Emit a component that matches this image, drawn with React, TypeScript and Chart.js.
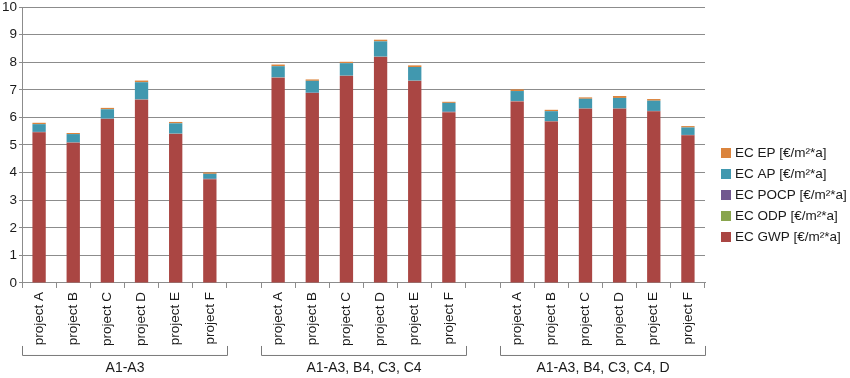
import React, { useEffect, useRef } from "react";
import { Chart, registerables } from "chart.js";

Chart.register(...registerables);

const categories = [
  "project A", "project B", "project C", "project D", "project E", "project F", "",
  "project A", "project B", "project C", "project D", "project E", "project F", "",
  "project A", "project B", "project C", "project D", "project E", "project F",
];

const gwp = [5.46, 5.08, 5.94, 6.64, 5.4, 3.76, null, 7.44, 6.88, 7.5, 8.19, 7.32, 6.19, null, 6.58, 5.85, 6.31, 6.31, 6.22, 5.35];
const odp = [0.005, 0.005, 0.005, 0.005, 0.005, 0.005, null, 0.005, 0.005, 0.005, 0.005, 0.005, 0.005, null, 0.005, 0.005, 0.005, 0.005, 0.005, 0.005];
const pocp = [0.01, 0.01, 0.01, 0.01, 0.01, 0.01, null, 0.01, 0.01, 0.01, 0.01, 0.01, 0.01, null, 0.01, 0.01, 0.01, 0.01, 0.01, 0.01];
const ap = [0.28, 0.3, 0.34, 0.62, 0.37, 0.18, null, 0.4, 0.43, 0.45, 0.55, 0.49, 0.32, null, 0.36, 0.36, 0.35, 0.38, 0.37, 0.27];
const ep = [0.05, 0.04, 0.05, 0.06, 0.05, 0.05, null, 0.06, 0.05, 0.05, 0.06, 0.06, 0.04, null, 0.06, 0.05, 0.05, 0.07, 0.06, 0.05];

const seriesLabels = ["EC GWP [€/m²*a]", "EC ODP [€/m²*a]", "EC POCP [€/m²*a]", "EC AP [€/m²*a]", "EC EP [€/m²*a]"];
const seriesColors = ["#AA4643", "#89A54E", "#71588F", "#4198AF", "#DB843D"];

const groupLabels = ["A1-A3", "A1-A3, B4, C3, C4", "A1-A3, B4, C3, C4, D"];
const groupStarts = [0, 7, 14];
const groupSize = 6;

const FONT = "'Liberation Sans', Arial, sans-serif";
const TEXT = "#1a1a1a";
const GRID = "#8c8c8c";

const bracketPlugin = {
  id: "groupBrackets",
  afterDraw(chart: any) {
    const x = chart.scales.x;
    const ctx = chart.ctx;
    const slot = x.width / categories.length;
    const yTop = chart.chartArea.bottom + 63;
    const yBot = chart.chartArea.bottom + 72;
    ctx.save();
    ctx.strokeStyle = "#7a7a7a";
    ctx.lineWidth = 1;
    ctx.fillStyle = TEXT;
    ctx.font = `14px ${FONT}`;
    ctx.textAlign = "center";
    ctx.textBaseline = "middle";
    groupStarts.forEach((s, i) => {
      const l = Math.round(x.getPixelForValue(s) - slot / 2) + 0.5;
      const r = Math.round(x.getPixelForValue(s + groupSize - 1) + slot / 2) + 0.5;
      ctx.beginPath();
      ctx.moveTo(l, yTop);
      ctx.lineTo(l, yBot + 0.5);
      ctx.lineTo(r, yBot + 0.5);
      ctx.lineTo(r, yTop);
      ctx.stroke();
      ctx.fillText(groupLabels[i], (l + r) / 2, yBot + 13);
    });

    // legend (reversed order, drawn beside the plot)
    const boxX = chart.chartArea.right + 16;
    const textX = boxX + 14;
    const firstY = 153;
    const step = 21;
    ctx.font = `13.5px ${FONT}`;
    ctx.textAlign = "left";
    const n = seriesLabels.length;
    for (let k = 0; k < n; k++) {
      const idx = n - 1 - k;
      const cy = firstY + k * step;
      ctx.fillStyle = seriesColors[idx];
      ctx.fillRect(boxX, cy - 5, 10, 10);
      ctx.fillStyle = TEXT;
      ctx.fillText(seriesLabels[idx], textX, cy + 0.5);
    }
    ctx.restore();
  },
};

export default function App() {
  const ref = useRef<HTMLCanvasElement>(null);
  useEffect(() => {
    document.body.style.margin = "0";
    const dataArrays = [gwp, odp, pocp, ap, ep];
    const chart = new Chart(ref.current!, {
      type: "bar",
      data: {
        labels: categories,
        datasets: dataArrays.map((d, i) => ({
          label: seriesLabels[i],
          data: d,
          backgroundColor: seriesColors[i],
          borderWidth: 0,
          barPercentage: 0.78,
          categoryPercentage: 0.5,
        })),
      },
      options: {
        responsive: false,
        animation: false,
        layout: { padding: { top: 7, bottom: 28, left: 0, right: 145 } },
        plugins: {
          tooltip: { enabled: false },
          legend: { display: false },
        },
        scales: {
          x: {
            stacked: true,
            grid: { display: true, drawOnChartArea: false, drawTicks: true, tickLength: 5, offset: true, color: GRID },
            border: { color: GRID },
            ticks: {
              autoSkip: false,
              minRotation: 90,
              maxRotation: 90,
              color: TEXT,
              font: { family: FONT, size: 13.5 },
              padding: 4,
            },
          },
          y: {
            stacked: true,
            min: 0,
            max: 10,
            ticks: { stepSize: 1, color: TEXT, font: { family: FONT, size: 13.5 }, padding: 2 },
            grid: { color: GRID, tickLength: 3 },
            border: { color: GRID },
            afterFit(axis: any) {
              axis.paddingTop = 0;
            },
          },
        },
      },
      plugins: [bracketPlugin],
    });
    return () => chart.destroy();
  }, []);
  return <canvas ref={ref} width={850} height={378} />;
}
